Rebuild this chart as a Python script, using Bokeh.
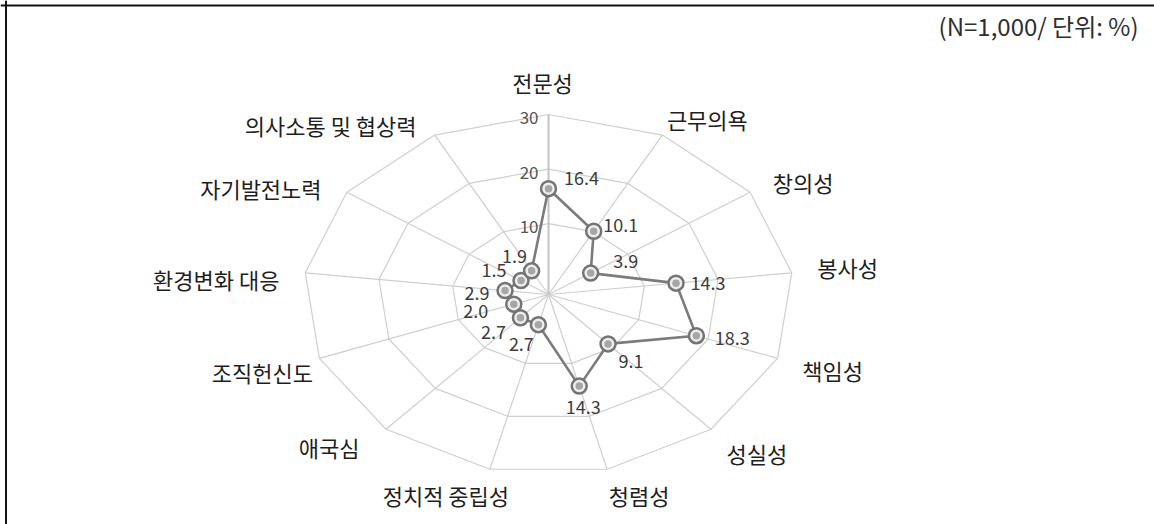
import math

from bokeh.core.properties import value
from bokeh.embed import file_html
from bokeh.models import ColumnDataSource, Label, Range1d, Span
from bokeh.plotting import figure
from bokeh.resources import INLINE

# ---- data -------------------------------------------------------------
categories = [
    "전문성", "근무의욕", "창의성", "봉사성", "책임성", "성실성", "청렴성",
    "정치적 중립성", "애국심", "조직헌신도", "환경변화 대응", "자기발전노력",
    "의사소통 및 협상력",
]
shares = [16.4, 10.1, 3.9, 14.3, 18.3, 9.1, 14.3, 2.7, 2.7, 2.0, 2.9, 1.5, 1.9]
ring_values = [10, 20, 30]
ring_labels = ["10", "20", "30"]
note_text = "(N=1,000/ 단위: %)"

# ---- layout -----------------------------------------------------------
W, H = 1154, 524
CX, CY = 548, 294          # chart centre, px from left / top
SX, SY = 245, 180          # px per unit radius, horizontal / vertical
R_MIN, R_MAX = -3.0, 30.0  # radial axis range (centre .. outer ring)

# label nudges in px (right, down) from the outer vertex / the data point
cat_nudge = [(-6, -33), (45, -16), (53, -10), (56, -6), (55, 12), (46, 24),
             (32, 26), (-44, 26), (-57, 18), (-57, 14), (-89, 6), (-86, -4),
             (-104, -10)]
val_nudge = [(33, -11), (27, -6), (35, -12), (32, 0), (36, 2), (23, 17),
             (4, 21), (-17, 19), (-27, 14), (-38, 7), (-28, 2), (-27, -11),
             (-17, -15)]

FONT = "Noto Sans CJK KR"
GRID = "#cfcfcf"

n = len(categories)
angles = [2 * math.pi * k / n for k in range(n)]


def radius(v):
    return (v - R_MIN) / (R_MAX - R_MIN)


def polar(r, a):
    return r * math.sin(a), r * math.cos(a)


def nudge(x, y, dx, dy):
    return x + dx / SX, y - dy / SY


p = figure(
    width=W, height=H,
    x_range=Range1d(-CX / SX, (W - CX) / SX),
    y_range=Range1d(-(H - CY) / SY, CY / SY),
    x_axis_location=None, y_axis_location=None,
    toolbar_location=None, output_backend="svg",
    min_border=0, outline_line_color=None,
    background_fill_color="white", border_fill_color="white",
)
p.grid.visible = False

# rings (13-gons)
ring_xs, ring_ys = [], []
for v in ring_values:
    pts = [polar(radius(v), a) for a in angles]
    pts.append(pts[0])
    ring_xs.append([q[0] for q in pts])
    ring_ys.append([q[1] for q in pts])
p.multi_line(ring_xs, ring_ys, line_color=GRID, line_width=1.2)

# spokes
outer = [polar(1.0, a) for a in angles]
p.multi_line([[0, q[0]] for q in outer[1:]], [[0, q[1]] for q in outer[1:]],
             line_color=GRID, line_width=1.2)
p.line([0, outer[0][0]], [0, outer[0][1]], line_color="#c4c4c4", line_width=2)

# ring value labels on the vertical axis
rx, ry = [], []
for v in ring_values:
    x, y = polar(radius(v), 0)
    x, y = nudge(x, y, -10, 3)
    rx.append(x)
    ry.append(y)
p.text(rx, ry, text=ring_labels, text_font=value(FONT), text_font_size="17px",
       text_color="#555555", text_align="right", text_baseline="middle")

# data polygon
pts = [polar(radius(v), a) for v, a in zip(shares, angles)]
px = [q[0] for q in pts]
py = [q[1] for q in pts]
p.line(px + [px[0]], py + [py[0]], line_color="#7b7b7b", line_width=2.6)

src = ColumnDataSource(dict(x=px, y=py))
p.scatter("x", "y", source=src, size=15, marker="circle",
          line_color="#747474", line_width=2.5, fill_color="#ededed")
p.scatter("x", "y", source=src, size=7.5, marker="circle",
          line_color=None, fill_color="#a6a6a6")

# value labels
vx, vy = [], []
for (x, y), (dx, dy) in zip(pts, val_nudge):
    a, b = nudge(x, y, dx, dy)
    vx.append(a)
    vy.append(b)
p.text(vx, vy, text=[f"{v:.1f}" for v in shares], text_font=value(FONT),
       text_font_size="18px", text_color="#3c3c3c",
       text_align="center", text_baseline="middle")

# category labels
cx, cy = [], []
for (x, y), (dx, dy) in zip(outer, cat_nudge):
    a, b = nudge(x, y, dx, dy)
    cx.append(a)
    cy.append(b)
p.text(cx, cy, text=categories, text_font=value(FONT), text_font_size="22px",
       text_color="#1e1e1e", text_align="center", text_baseline="middle")

# sample size / unit note
p.add_layout(Label(x=1138, y=H - 25, x_units="screen", y_units="screen",
                   text=note_text, text_font=FONT, text_font_size="24px",
                   text_color="#2e2e2e", text_align="right",
                   text_baseline="middle"))

# frame lines along the top and left edges
p.add_layout(Span(location=(CY - 5) / SY, dimension="width",
                  line_color="#111111", line_width=2))
p.add_layout(Span(location=(5.5 - CX) / SX, dimension="height",
                  line_color="#111111", line_width=2))

with open("out.html", "w") as f:
    f.write(file_html(p, INLINE))
